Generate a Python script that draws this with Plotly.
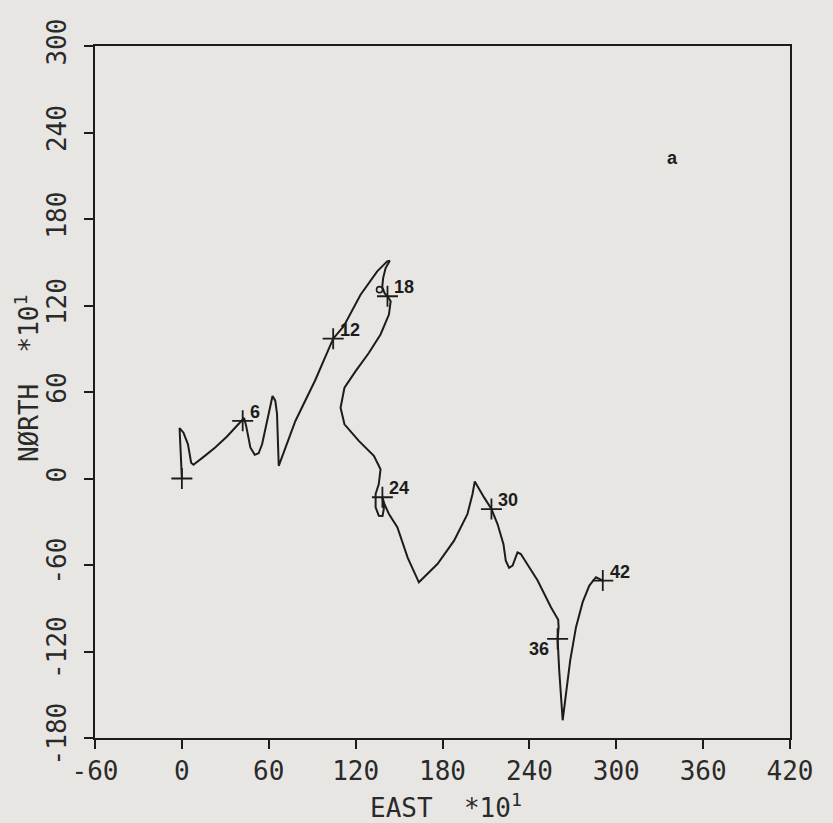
import plotly.graph_objects as go

# Trajectory (EAST, NORTH) in units of 10^1
east = [0, -1.6, 1.1, 4.2, 6.4, 8.0, 15, 23, 31, 39, 43, 44.5, 47.3, 50.3, 53, 55.4, 58.5, 61, 62.6,
        64.5, 65.7, 66.9, 78.4, 92, 104.5, 111.8, 123.4, 134.9, 141.8, 143.6, 140.7, 139, 138.4, 140,
        142, 144.2, 143, 137.2, 129.2, 120, 112.3, 109.6, 112.3, 122.2, 132.6, 137.2, 136, 133.8, 133.8,
        136, 138.6, 139.5, 138.5, 140, 143, 148.8, 156, 163.7, 176.5, 188, 197.2, 200.7, 202.3, 208.7,
        213.8, 218, 222.1, 223.7, 226, 228.4, 231.8, 234.1, 245.7, 254.9, 259.9, 260.2, 259.5, 260.6,
        263, 265.3, 268.2, 272.2, 276.8, 281.4, 286, 290.7]
north = [0, 35, 31.8, 23.7, 11, 9.5, 15, 21.5, 29, 37.6, 42, 36, 21.5, 16.4, 17.5, 23.7, 38, 51.4, 57.2,
         54, 45, 8.8, 39.9, 68, 97, 105.7, 127.5, 143.7, 150.6, 151, 146, 139, 133, 128.5,
         126.4, 123, 113.7, 99.9, 87.2, 74.5, 63, 49.1, 37.6, 26.1, 15.7, 6.4, -3.9, -10.8, -20,
         -25.8, -26, -21, -13, -18, -24.6, -33.8, -55, -72, -59.3, -43.1, -24.7, -10.9, -2.1, -13.1,
         -21.2, -31.6, -45.5, -57, -62, -60.4, -51.2, -52.4, -70.8, -89.3, -98, -103.1, -111.2, -133,
         -167.7, -149.3, -126.2, -103.1, -85.8, -74.3, -68.5, -70.8]

# Hour marks
hour_labels = ["", "6", "12", "18", "24", "30", "36", "42"]
hour_east = [0, 42, 104.5, 142, 138.5, 213.8, 259.5, 290.7]
hour_north = [0, 40, 97, 126.4, -13, -21.2, -111.2, -70.8]

circle_east = [136.5]
circle_north = [131]

x_ticks = [-60, 0, 60, 120, 180, 240, 300, 360, 420]
y_ticks = [-180, -120, -60, 0, 60, 120, 180, 240, 300]

ink = "#1c1c1c"
paper = "#e8e6e3"
tick_font = dict(family="DejaVu Sans Mono", size=26, color="#2a2a2a")
mark_font = dict(family="Liberation Sans", size=18, color=ink, weight="bold")

fig = go.Figure()
fig.add_trace(go.Scatter(x=east, y=north, mode="lines",
                         line=dict(color=ink, width=2), hoverinfo="skip"))
fig.add_trace(go.Scatter(x=hour_east, y=hour_north, mode="markers",
                         marker=dict(symbol="cross-thin", size=15, color=ink,
                                     line=dict(color=ink, width=1.8)),
                         hoverinfo="skip"))
fig.add_trace(go.Scatter(x=circle_east, y=circle_north, mode="markers",
                         marker=dict(symbol="circle-open", size=6, color=ink,
                                     line=dict(color=ink, width=1.6)),
                         hoverinfo="skip"))

for lab, xe, yn in zip(hour_labels, hour_east, hour_north):
    if not lab:
        continue
    if lab == "36":
        fig.add_annotation(x=xe, y=yn, text=lab, showarrow=False, xanchor="right",
                           yanchor="middle", xshift=-7, yshift=-10, font=mark_font)
    else:
        fig.add_annotation(x=xe, y=yn, text=lab, showarrow=False, xanchor="left",
                           yanchor="middle", xshift=5, yshift=9, font=mark_font)

fig.add_annotation(x=339, y=222, text="a", showarrow=False, font=mark_font)

fig.add_annotation(xref="paper", yref="paper", x=0.505, y=-0.098, text="EAST\u00a0\u00a0*10<sup>1</sup>",
                   showarrow=False, xanchor="center", yanchor="middle", font=tick_font)
fig.add_annotation(xref="paper", yref="paper", x=-0.098, y=0.52, text="NØRTH\u00a0 *10<sup>1</sup>",
                   showarrow=False, xanchor="center", yanchor="middle", textangle=-90, font=tick_font)

axis_common = dict(showgrid=False, zeroline=False, showline=True, linecolor=ink, linewidth=2,
                   mirror=True, ticks="outside", ticklen=9, tickwidth=2, tickcolor=ink,
                   tickfont=tick_font)
fig.update_xaxes(range=[-60, 420], tickvals=x_ticks, ticktext=[str(v) for v in x_ticks],
                 **axis_common)
fig.update_yaxes(range=[-180, 300], tickvals=y_ticks, ticktext=[str(v) for v in y_ticks],
                 tickangle=-90, ticklabelstandoff=8, **axis_common)

fig.update_layout(width=833, height=823, showlegend=False,
                  margin=dict(l=95, r=43, t=46, b=85),
                  paper_bgcolor=paper, plot_bgcolor=paper)

fig.write_html("out.html", config={"displayModeBar": False},
               post_script="document.body.style.margin='0';document.body.style.background='#e8e6e3';")
